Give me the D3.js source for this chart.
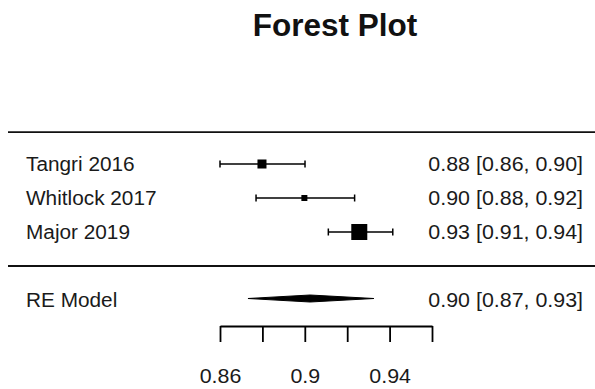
<!DOCTYPE html>
<html>
<head>
<meta charset="utf-8">
<script src="https://cdn.jsdelivr.net/npm/d3@7"></script>
<style>
  html, body { margin: 0; padding: 0; background: #fff; }
  svg { display: block; }
  text { font-family: Arial, "Liberation Sans", Helvetica, sans-serif; fill: #1a1a1a; }
</style>
</head>
<body>
<svg id="chart" width="595" height="389"></svg>
<script>
// ---- data ----
const studies   = ["Tangri 2016", "Whitlock 2017", "Major 2019"];
const estimates = [0.8798, 0.8998, 0.9257];
const lowers    = [0.8600, 0.8770, 0.9111];
const uppers    = [0.9001, 0.9235, 0.9415];
const modelLabel = "RE Model";
const modelEst   = 0.9025;
const modelLower = 0.8732;
const modelUpper = 0.9326;
const tickValues = [0.86, 0.88, 0.90, 0.92, 0.94, 0.96];
const tickLabels = ["0.86", "", "0.9", "", "0.94", ""];
const title = "Forest Plot";

// ---- layout ----
const W = 595, H = 389;
const svg = d3.select("#chart");
const x = d3.scaleLinear().domain([0.86, 0.96]).range([220, 432]);
const k = studies.length;
const y = d3.scaleLinear().domain([k + 1, -1]).range([130, 300]);
const fmt = d3.format(".2f");
const stretchL = 1.04, stretchR = 1.07, fs = 20;

// precision-based box sizes
const prec = lowers.map((l, i) => 1 / (uppers[i] - l));
const boxSize = d3.scaleLinear().domain(d3.extent(prec)).range([6, 16]);

// title
svg.append("text")
  .attr("x", 335).attr("y", 36)
  .attr("text-anchor", "middle")
  .attr("font-size", 31.5).attr("font-weight", "bold")
  .style("fill", "#111")
  .text(title);

// horizontal separators
svg.append("line").attr("x1", 8).attr("x2", W).attr("y1", y(k + 0.94)).attr("y2", y(k + 0.94))
  .attr("stroke", "#111").attr("stroke-width", 1.8);
svg.append("line").attr("x1", 8).attr("x2", W).attr("y1", y(0)).attr("y2", y(0))
  .attr("stroke", "#111").attr("stroke-width", 1.8);

// study rows
const rows = svg.selectAll("g.row").data(studies).enter().append("g").attr("class", "row");
rows.each(function(name, i) {
  const g = d3.select(this);
  const yy = y(k - i);
  g.append("line").attr("x1", x(lowers[i])).attr("x2", x(uppers[i]))
    .attr("y1", yy).attr("y2", yy).attr("stroke", "#000").attr("stroke-width", 1.5);
  [lowers[i], uppers[i]].forEach(v => {
    g.append("line").attr("x1", x(v)).attr("x2", x(v))
      .attr("y1", yy - 3.5).attr("y2", yy + 3.5).attr("stroke", "#000").attr("stroke-width", 1.5);
  });
  const s = boxSize(prec[i]);
  g.append("rect").attr("x", x(estimates[i]) - s / 2).attr("y", yy - s / 2)
    .attr("width", s).attr("height", s).attr("fill", "#000");
  g.append("g").attr("transform", `translate(26,${yy}) scale(${stretchL},1)`)
    .append("text").attr("dy", "0.35em").attr("font-size", fs).text(name);
  g.append("g").attr("transform", `translate(583,${yy}) scale(${stretchR},1)`)
    .append("text").attr("dy", "0.35em").attr("font-size", fs).attr("text-anchor", "end")
    .text(`${fmt(estimates[i])} [${fmt(lowers[i])}, ${fmt(uppers[i])}]`);
});

// summary diamond
const ym = y(-1) - 1.5;
svg.append("path")
  .attr("d", `M${x(modelLower)},${ym} L${x(modelEst)},${ym - 3.5} L${x(modelUpper)},${ym} L${x(modelEst)},${ym + 3.5} Z`)
  .attr("fill", "#000").attr("stroke", "#000").attr("stroke-width", 1);
svg.append("g").attr("transform", `translate(26,${y(-1)}) scale(${stretchL},1)`)
  .append("text").attr("dy", "0.35em").attr("font-size", fs).text(modelLabel);
svg.append("g").attr("transform", `translate(583,${y(-1)}) scale(${stretchR},1)`)
  .append("text").attr("dy", "0.35em").attr("font-size", fs).attr("text-anchor", "end")
  .text(`${fmt(modelEst)} [${fmt(modelLower)}, ${fmt(modelUpper)}]`);

// x axis (ticks pointing downward)
const axis = d3.axisBottom(x)
  .tickValues(tickValues)
  .tickFormat((d, i) => tickLabels[i])
  .tickSize(16).tickSizeOuter(0);
const ag = svg.append("g").attr("transform", "translate(0,326)").call(axis);
ag.select(".domain").attr("stroke", "#000").attr("stroke-width", 1.8);
ag.selectAll(".tick line").attr("stroke", "#000").attr("stroke-width", 1.8);
ag.selectAll(".tick text")
  .attr("y", 57).attr("dy", 0)
  .attr("font-size", fs)
  .attr("font-family", "Arial, 'Liberation Sans', sans-serif")
  .attr("transform", `scale(${stretchR},1)`)
  .style("fill", "#1a1a1a");
</script>
</body>
</html>
